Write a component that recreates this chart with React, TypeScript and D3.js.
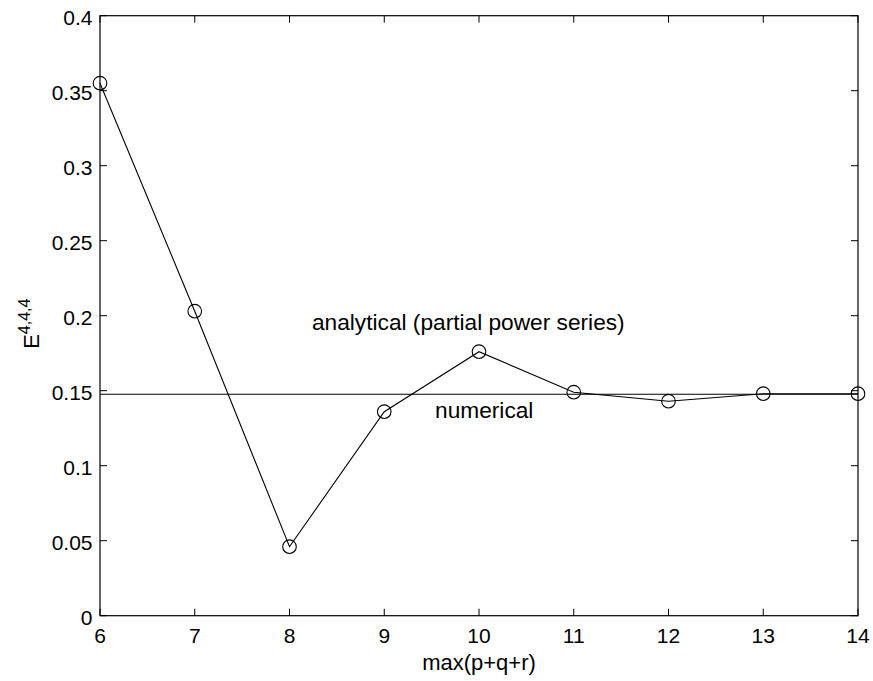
import { useEffect, useRef } from 'react';
import * as d3 from 'd3';

// ── Data ──
const ORDERS = [6, 7, 8, 9, 10, 11, 12, 13, 14];
const ANALYTICAL = [0.355, 0.203, 0.046, 0.136, 0.176, 0.149, 0.143, 0.148, 0.148];
const NUMERICAL = 0.1476;

const X_TICKS = [6, 7, 8, 9, 10, 11, 12, 13, 14];
const Y_TICKS = [0, 0.05, 0.1, 0.15, 0.2, 0.25, 0.3, 0.35, 0.4];

// annotation anchors in data units (left end, baseline)
const LABEL_ANALYTICAL = { x: 8.237, y: 0.1905, text: 'analytical (partial power series)' };
const LABEL_NUMERICAL = { x: 9.536, y: 0.1316, text: 'numerical' };

const W = 873;
const H = 681;
const PLOT = { left: 100, right: 858, top: 15.7, bottom: 615.7 };
const TICK_LEN = 7;
const FONT = '"Liberation Sans", Arial, Helvetica, sans-serif';
const TICK_FS = 21;
const LABEL_FS = 22.7;

export default function App() {
  const svgRef = useRef<SVGSVGElement>(null);

  useEffect(() => {
    const svg = d3.select(svgRef.current);
    svg.selectAll('*').remove();

    const x = d3.scaleLinear().domain([6, 14]).range([PLOT.left, PLOT.right]);
    const y = d3.scaleLinear().domain([0, 0.4]).range([PLOT.bottom, PLOT.top]);

    svg.append('rect').attr('width', W).attr('height', H).attr('fill', '#fff');

    // numerical reference line
    svg.append('line')
      .attr('x1', x(6)).attr('x2', x(14))
      .attr('y1', y(NUMERICAL)).attr('y2', y(NUMERICAL))
      .attr('stroke', '#000').attr('stroke-width', 1.1);

    // analytical series
    const pts: [number, number][] = ORDERS.map((o, i) => [o, ANALYTICAL[i]]);
    const line = d3.line<[number, number]>().x((d) => x(d[0])).y((d) => y(d[1]));
    svg.append('path')
      .attr('d', line(pts))
      .attr('fill', 'none').attr('stroke', '#000').attr('stroke-width', 1.1);

    svg.append('g').selectAll('circle').data(pts).join('circle')
      .attr('cx', (d) => x(d[0])).attr('cy', (d) => y(d[1]))
      .attr('r', 6.8)
      .attr('fill', 'none').attr('stroke', '#000').attr('stroke-width', 1.1);

    // frame
    svg.append('rect')
      .attr('x', PLOT.left).attr('y', PLOT.top)
      .attr('width', PLOT.right - PLOT.left).attr('height', PLOT.bottom - PLOT.top)
      .attr('fill', 'none').attr('stroke', '#000').attr('stroke-width', 1.2);

    // ticks (inside, mirrored on all sides)
    const ticks = svg.append('g').attr('stroke', '#000').attr('stroke-width', 1);
    X_TICKS.forEach((t) => {
      ticks.append('line').attr('x1', x(t)).attr('x2', x(t)).attr('y1', PLOT.bottom).attr('y2', PLOT.bottom - TICK_LEN);
      ticks.append('line').attr('x1', x(t)).attr('x2', x(t)).attr('y1', PLOT.top).attr('y2', PLOT.top + TICK_LEN);
    });
    Y_TICKS.forEach((t) => {
      ticks.append('line').attr('x1', PLOT.left).attr('x2', PLOT.left + TICK_LEN).attr('y1', y(t)).attr('y2', y(t));
      ticks.append('line').attr('x1', PLOT.right).attr('x2', PLOT.right - TICK_LEN).attr('y1', y(t)).attr('y2', y(t));
    });

    // tick labels
    const fmt = (v: number) => String(+v.toFixed(2));
    svg.append('g').selectAll('text').data(X_TICKS).join('text')
      .attr('x', (d) => x(d)).attr('y', PLOT.bottom + 27.5)
      .attr('text-anchor', 'middle')
      .attr('font-family', FONT).attr('font-size', TICK_FS)
      .text((d) => String(d));
    svg.append('g').selectAll('text').data(Y_TICKS).join('text')
      .attr('x', PLOT.left - 7.5).attr('y', (d) => y(d) + 9.5)
      .attr('text-anchor', 'end')
      .attr('font-family', FONT).attr('font-size', TICK_FS)
      .text(fmt);

    // axis labels
    svg.append('text')
      .attr('x', (PLOT.left + PLOT.right) / 2).attr('y', 670)
      .attr('text-anchor', 'middle')
      .attr('font-family', FONT).attr('font-size', 22)
      .text('max(p+q+r)');

    const yl = svg.append('text')
      .attr('transform', `translate(38.5, ${(PLOT.top + PLOT.bottom) / 2 + 8}) rotate(-90)`)
      .attr('text-anchor', 'middle')
      .attr('font-family', FONT).attr('font-size', 22);
    yl.append('tspan').text('E');
    yl.append('tspan').attr('font-size', 16).attr('dy', -9).text('4,4,4');

    // annotations
    [LABEL_ANALYTICAL, LABEL_NUMERICAL].forEach((l) => {
      svg.append('text')
        .attr('x', x(l.x)).attr('y', y(l.y))
        .attr('font-family', FONT).attr('font-size', LABEL_FS)
        .text(l.text);
    });
  }, []);

  return (
    <div style={{ position: 'fixed', left: 0, top: 0, width: W, height: H, background: '#fff' }}>
      <svg ref={svgRef} width={W} height={H} style={{ display: 'block' }} />
    </div>
  );
}
